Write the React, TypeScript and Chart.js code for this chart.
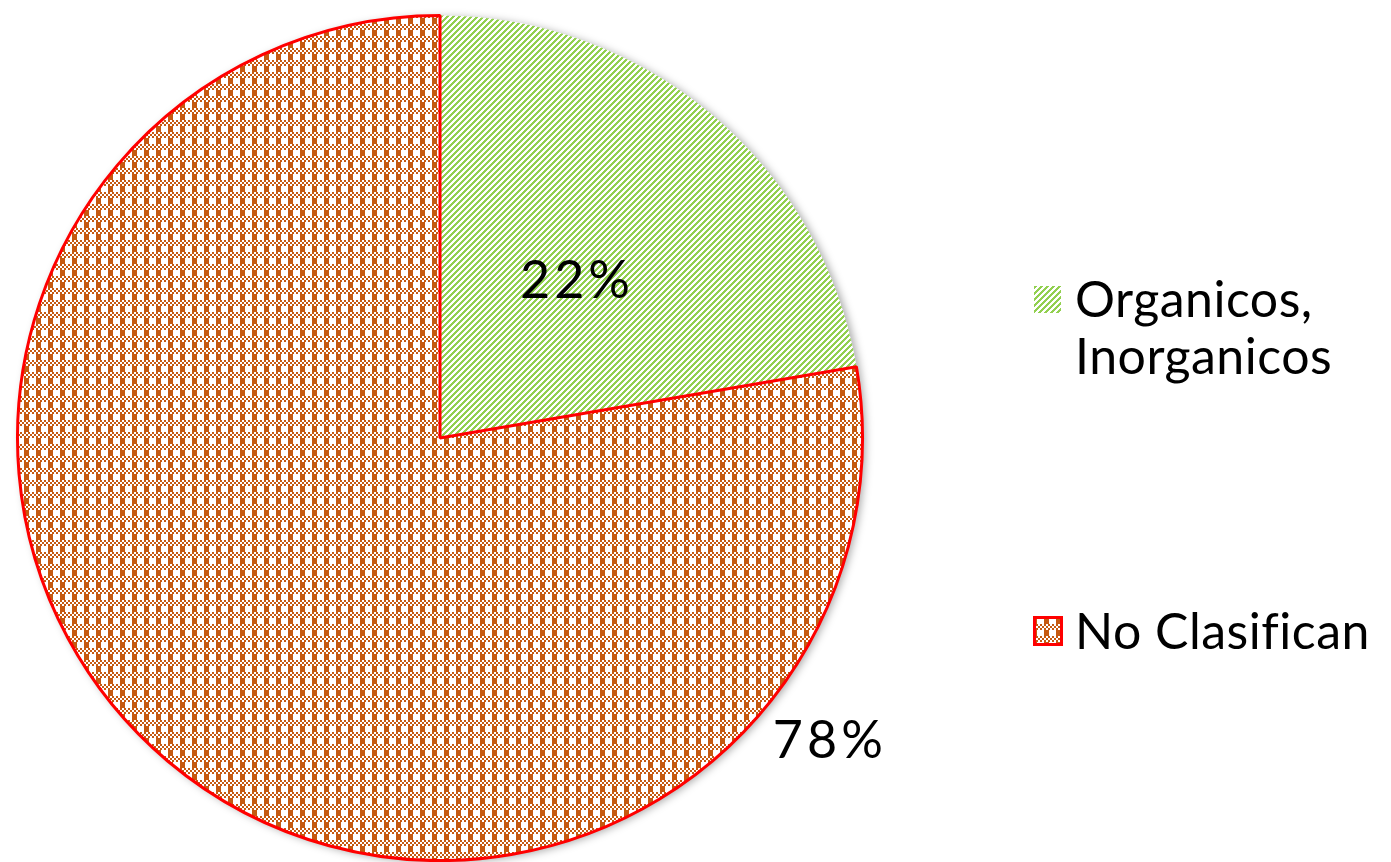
import React, { useEffect, useRef } from "react";
import { Chart, registerables } from "chart.js";

Chart.register(...registerables);

const categories: string[][] = [["Organicos,", "Inorganicos"], ["No Clasifican"]];
const values: number[] = [22.3, 77.7];
const percentLabels: string[] = ["22%", "78%"];

const GREEN = "#92D050";
const ORANGE = "#C55A11";
const RED = "#FF0000";
const FONT = "Lato, 'Open Sans', sans-serif";

function makeGreenPattern(): CanvasPattern | string {
  const t = document.createElement("canvas");
  t.width = 6;
  t.height = 6;
  const c = t.getContext("2d")!;
  const img = c.createImageData(6, 6);
  for (let y = 0; y < 6; y++) {
    for (let x = 0; x < 6; x++) {
      const on = (x + y) % 6 < 3;
      const i = (y * 6 + x) * 4;
      img.data[i] = on ? 0x92 : 255;
      img.data[i + 1] = on ? 0xd0 : 255;
      img.data[i + 2] = on ? 0x50 : 255;
      img.data[i + 3] = 255;
    }
  }
  c.putImageData(img, 0, 0);
  return c.createPattern(t, "repeat") || GREEN;
}

function makeOrangePattern(): CanvasPattern | string {
  const S = 12;
  const t = document.createElement("canvas");
  t.width = S;
  t.height = S;
  const c = t.getContext("2d")!;
  c.fillStyle = "#ffffff";
  c.fillRect(0, 0, S, S);
  c.fillStyle = ORANGE;
  // check band (rows 0-5)
  for (let cy = 0; cy < 3; cy++) {
    for (let cx = 0; cx < 6; cx++) {
      if ((cx + cy) % 2 === 0) c.fillRect(cx * 2, cy * 2, 2, 2);
    }
  }
  // solid band (rows 6-11): vertical bar
  c.fillRect(0, 6, 5, 6);
  return c.createPattern(t, "repeat") || ORANGE;
}

export default function App() {
  const ref = useRef<HTMLCanvasElement | null>(null);

  useEffect(() => {
    if (!ref.current) return;
    const green = makeGreenPattern();
    const orange = makeOrangePattern();
    const fills = [green, orange];
    const borders = [GREEN, RED];
    const borderWidths = [0, 3];

    const shadowPlugin = {
      id: "pieShadow",
      beforeDatasetsDraw(chart: any) {
        const arc = chart.getDatasetMeta(0).data[0];
        if (!arc) return;
        const { x, y, outerRadius } = arc.getProps(["x", "y", "outerRadius"], true);
        const ctx = chart.ctx;
        ctx.save();
        ctx.shadowColor = "rgba(0,0,0,0.35)";
        ctx.shadowBlur = 8;
        ctx.shadowOffsetX = 3;
        ctx.shadowOffsetY = 2;
        ctx.fillStyle = "#ffffff";
        ctx.beginPath();
        ctx.arc(x, y, outerRadius, 0, Math.PI * 2);
        ctx.fill();
        ctx.restore();
      },
    };

    const labelPlugin = {
      id: "pctLabels",
      afterDatasetsDraw(chart: any) {
        const meta = chart.getDatasetMeta(0);
        const ctx = chart.ctx;
        ctx.save();
        ctx.fillStyle = "#000000";
        ctx.font = `52px ${FONT}`;
        (ctx as any).letterSpacing = "4px";
        ctx.textAlign = "center";
        ctx.textBaseline = "middle";
        meta.data.forEach((arc: any, i: number) => {
          const { x, y, startAngle, endAngle, outerRadius } = arc.getProps(
            ["x", "y", "startAngle", "endAngle", "outerRadius"],
            true
          );
          let ang: number;
          let dist: number;
          if (i === 0) {
            ang = (startAngle + endAngle) / 2 + 0.01;
            dist = outerRadius * 0.49;
          } else {
            ang = (38 * Math.PI) / 180;
            dist = outerRadius * 1.165;
          }
          ctx.fillText(percentLabels[i], x + Math.cos(ang) * dist + 2, y + Math.sin(ang) * dist);
        });
        ctx.restore();
      },
    };

    const legendPlugin = {
      id: "sideLegend",
      afterDraw(chart: any) {
        const ctx = chart.ctx;
        const items = [
          { boxY: 286, textY: 301, lh: 57 },
          { boxY: 617, textY: 633, lh: 57 },
        ];
        ctx.save();
        ctx.font = `50px ${FONT}`;
        (ctx as any).letterSpacing = "0.5px";
        ctx.textBaseline = "middle";
        ctx.textAlign = "left";
        categories.forEach((lines, i) => {
          const it = items[i];
          ctx.fillStyle = fills[i];
          ctx.fillRect(1034, it.boxY, 27, 27);
          if (borderWidths[i] > 0) {
            ctx.strokeStyle = borders[i];
            ctx.lineWidth = 3;
            ctx.strokeRect(1034.5, it.boxY + 0.5, 27, 27);
          }
          ctx.fillStyle = "#000000";
          lines.forEach((ln, j) => {
            ctx.fillText(ln, 1075, it.textY + j * it.lh);
          });
        });
        ctx.restore();
      },
    };

    const chart = new Chart(ref.current, {
      type: "pie",
      data: {
        labels: categories.map((l) => l.join(" ")),
        datasets: [
          {
            data: values,
            backgroundColor: fills as any,
            borderColor: borders,
            borderWidth: borderWidths,
          },
        ],
      },
      options: {
        responsive: false,
        animation: false,
        layout: { padding: { left: 16, top: 14, right: 527, bottom: 0 } },
        plugins: {
          legend: { display: false },
          tooltip: { enabled: false },
        },
      },
      plugins: [shadowPlugin, labelPlugin, legendPlugin],
    });
    return () => chart.destroy();
  }, []);

  return (
    <div style={{ position: "absolute", left: 0, top: 0, width: 1391, height: 862, background: "#fff" }}>
      <canvas ref={ref} width={1391} height={862} />
    </div>
  );
}
